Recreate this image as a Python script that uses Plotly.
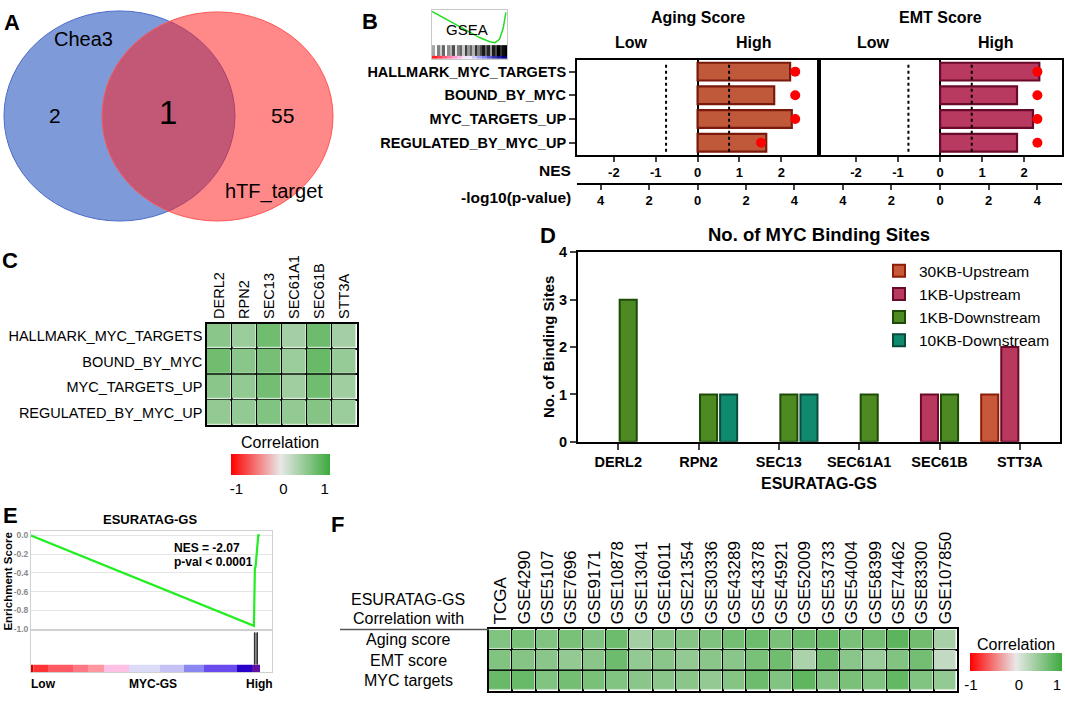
import numpy as np
import plotly.graph_objects as go

W, H = 1065, 701
FONT = "Arial, Liberation Sans, sans-serif"


def fx(p):
    return p / W


def fy(p):
    return 1 - p / H


# ---------------- Panel A : Venn ----------------
venn_left_name = "Chea3"
venn_right_name = "hTF_target"
venn_left_only = 2
venn_both = 1
venn_right_only = 55

# ---------------- Panel B : GSEA bars ----------------
gsea_sets = ["HALLMARK_MYC_TARGETS", "BOUND_BY_MYC", "MYC_TARGETS_UP", "REGULATED_BY_MYC_UP"]
aging_nes = [2.21, 1.83, 2.25, 1.64]
aging_logp = [4.03, 4.03, 4.03, 2.62]
emt_nes = [2.36, 1.83, 2.21, 1.83]
emt_logp = [4.0, 4.0, 4.0, 4.0]
p_threshold = 0.05
nes_ticks = [-2, -1, 0, 1, 2]
nes_ticktext = ["-2", "-1", "0", "1", "2"]
logp_ticks = [-4, -2, 0, 2, 4]
logp_ticktext = ["4", "2", "0", "2", "4"]

# GSEA icon (decoration in panel B)
icon_curve_x = [0.0, 0.24, 0.46, 0.64, 0.77, 0.84, 0.9, 0.95, 0.985]
icon_curve_y = [0.97, 0.77, 0.57, 0.43, 0.35, 0.33, 0.4, 0.63, 0.95]
icon_barcode = [0.35, 0.0, 0.5, 0.2, 0.6, 0.0, 0.45, 0.3, 0.7, 0.1, 0.5, 0.6, 0.2, 0.75, 0.4, 0.6,
                0.3, 0.8, 0.5, 0.7, 0.9, 0.6, 0.85, 0.4, 0.9, 0.7, 1.0, 0.8, 0.95, 1.0]
icon_strip = [-1.0, -0.85, -0.7, -0.55, -0.4, -0.25, -0.1, 0.05, 0.2, 0.35, 0.5, 0.65, 0.8, 0.9, 1.0]

# ---------------- Panel C : correlation heatmap ----------------
c_genes = ["DERL2", "RPN2", "SEC13", "SEC61A1", "SEC61B", "STT3A"]
c_corr = [
    [0.55, 0.45, 0.70, 0.40, 0.72, 0.40],
    [0.70, 0.55, 0.66, 0.45, 0.75, 0.48],
    [0.55, 0.50, 0.68, 0.42, 0.70, 0.42],
    [0.50, 0.50, 0.60, 0.50, 0.58, 0.45],
]

# ---------------- Panel D : binding sites ----------------
d_genes = ["DERL2", "RPN2", "SEC13", "SEC61A1", "SEC61B", "STT3A"]
d_series = ["30KB-Upstream", "1KB-Upstream", "1KB-Downstream", "10KB-Downstream"]
d_30kb_up = [0, 0, 0, 0, 0, 1]
d_1kb_up = [0, 0, 0, 0, 1, 2]
d_1kb_down = [3, 1, 1, 1, 1, 0]
d_10kb_down = [0, 1, 1, 0, 0, 0]

# ---------------- Panel E : GSEA enrichment plot ----------------
es_rank = [0, 18500, 18580, 18640, 18860, 19000]
es_score = [0.0, -0.965, -0.35, -0.33, 0.0, 0.0]
hit_ranks = [18550, 18575, 18760, 18785]
rank_edges = [0, 190, 1411, 3485, 4730, 6058, 8133, 10705, 12697, 14357, 17095, 18340, 19004]
rank_colors = ["#d40000", "#ff3434", "#ff5a64", "#ff7884", "#ff96a0", "#ffc0e6", "#dcdcf8",
               "#c6c2f6", "#8a88f0", "#6a4cee", "#2800c8", "#6012a2"]
e_nes_text = "NES = -2.07"
e_p_text = "p-val < 0.0001"

# ---------------- Panel F : dataset correlations ----------------
f_datasets = ["TCGA", "GSE4290", "GSE5107", "GSE7696", "GSE9171", "GSE10878", "GSE13041", "GSE16011",
              "GSE21354", "GSE30336", "GSE43289", "GSE43378", "GSE45921", "GSE52009", "GSE53733",
              "GSE54004", "GSE58399", "GSE74462", "GSE83300", "GSE107850"]
f_rows = ["Aging score", "EMT score", "MYC targets"]
f_aging = [0.60, 0.65, 0.60, 0.65, 0.60, 0.72, 0.40, 0.55, 0.58, 0.62, 0.68, 0.72, 0.65, 0.72, 0.75,
           0.65, 0.68, 0.82, 0.70, 0.38]
f_emt = [0.60, 0.58, 0.55, 0.50, 0.55, 0.72, 0.50, 0.55, 0.50, 0.55, 0.55, 0.65, 0.70, 0.35, 0.72,
         0.55, 0.45, 0.60, 0.68, 0.22]
f_myc = [0.75, 0.75, 0.60, 0.68, 0.65, 0.60, 0.55, 0.55, 0.55, 0.50, 0.58, 0.72, 0.60, 0.80, 0.60,
         0.65, 0.60, 0.78, 0.60, 0.50]

corr_scale = [[0.0, "#ff0000"], [0.5, "#e8e8e8"], [1.0, "#3daa3d"]]
corr_ticktext = ["-1", "0", "1"]

fig = go.Figure()
ann = []
shapes = []


def bold(size, color="black"):
    return dict(family=FONT, size=size, color=color, weight="bold")


def reg(size, color="black"):
    return dict(family=FONT, size=size, color=color)


def text(x, y, s, font, **kw):
    d = dict(x=fx(x), y=fy(y), xref="paper", yref="paper", text=s, showarrow=False, font=font,
             xanchor="center", yanchor="middle")
    d.update(kw)
    ann.append(d)


# ======== Panel A ========
shapes.append(dict(type="circle", xref="paper", yref="paper", x0=fx(4), x1=fx(235), y0=fy(218), y1=fy(3),
                   fillcolor="rgba(42,87,190,0.6)", line=dict(color="#4a6cc8", width=1)))
shapes.append(dict(type="circle", xref="paper", yref="paper", x0=fx(102), x1=fx(333), y0=fy(218), y1=fy(4),
                   fillcolor="rgba(255,30,30,0.53)", line=dict(color="#ff5555", width=1)))
text(83, 32, venn_left_name, reg(20))
text(55, 110, str(venn_left_only), reg(21))
text(168, 107, str(venn_both), reg(33))
text(282, 110, str(venn_right_only), reg(21))
text(274, 188, venn_right_name, reg(20))

# ======== Panel B ========
nes_lo, nes_hi = -2.88, 2.9
nes_per_logp = 0.5786
b_panels = [
    ("x", "y", "x3", aging_nes, aging_logp, "#c0583a", "#7a1a0c", 577, 819, "Aging Score"),
    ("x2", "y2", "x4", emt_nes, emt_logp, "#b93a60", "#6a0a2a", 819, 1062, "EMT Score"),
]
thr = -np.log10(p_threshold)
for i, (xa, ya, pa, nes, lp, fc, lc, left, right, title) in enumerate(b_panels):
    fig.add_trace(go.Bar(x=nes, y=gsea_sets, orientation="h", width=0.75, xaxis=xa, yaxis=ya,
                         marker=dict(color=fc, line=dict(color=lc, width=2.2)), showlegend=False))
    fig.add_trace(go.Scatter(x=lp, y=gsea_sets, mode="markers", xaxis=pa, yaxis=ya,
                             marker=dict(color="#ff0000", size=10), showlegend=False))
    for v in (-thr, thr):
        shapes.append(dict(type="line", xref=pa, yref=ya + " domain", x0=v, x1=v, y0=0.03, y1=0.96,
                           line=dict(color="black", width=2, dash="dot")))
    wdt = right - left
    text(left + 0.5 * wdt, 10, title, bold(16))
    text(left + 0.225 * wdt, 35, "Low", bold(16))
    text(left + 0.73 * wdt, 35, "High", bold(16))
text(573, 166, "NES", bold(15.5), xanchor="right")
text(573, 194, "-log10(p-value)", bold(15.5), xanchor="right")

# GSEA icon
fig.add_trace(go.Scatter(x=icon_curve_x, y=icon_curve_y, mode="lines", xaxis="x11", yaxis="y11",
                         line=dict(color="#22dd22", width=1.5), showlegend=False))
nb = len(icon_barcode)
fig.add_trace(go.Heatmap(z=[icon_barcode], x=np.linspace(0, 1, nb + 1), y=[0.06, 0.28], xaxis="x11",
                         yaxis="y11", colorscale=[[0, "#ffffff"], [1, "#000000"]], zmin=0, zmax=1,
                         showscale=False, hoverinfo="skip"))
ns = len(icon_strip)
fig.add_trace(go.Heatmap(z=[icon_strip], x=np.linspace(0, 1, ns + 1), y=[0.0, 0.06], xaxis="x11",
                         yaxis="y11", zmin=-1, zmax=1, showscale=False, hoverinfo="skip",
                         colorscale=[[0, "#ff2020"], [0.3, "#ff9ad0"], [0.5, "#f4f4ff"],
                                     [0.75, "#8080f0"], [1, "#000080"]]))
text(467, 22, "GSEA", reg(15))

# ======== Panel C ========
fig.add_trace(go.Heatmap(z=c_corr, x=c_genes, y=gsea_sets, xaxis="x6", yaxis="y6", zmin=-1, zmax=1,
                         colorscale=corr_scale, xgap=1.5, ygap=1.5, hoverinfo="skip",
                         colorbar=dict(orientation="h", x=fx(280), xanchor="center", y=fy(456),
                                       yanchor="top", len=99, lenmode="pixels", thickness=21,
                                       xpad=0, ypad=0, outlinewidth=0, ticks="",
                                       tickvals=[-0.88, 0.07, 0.9], ticktext=corr_ticktext,
                                       tickfont=reg(15))))
text(280, 445, "Correlation", reg(16))

# ======== Panel D ========
d_cols = [("#c8583a", "#8a1e08"), ("#b8385e", "#6a0a2a"), ("#4e8a22", "#1e4a08"), ("#0f8a6e", "#0a4a3a")]
for name, vals, (fc, lc) in zip(d_series, [d_30kb_up, d_1kb_up, d_1kb_down, d_10kb_down], d_cols):
    fig.add_trace(go.Bar(x=d_genes, y=[v if v else None for v in vals], name=name, xaxis="x5", yaxis="y5",
                         marker=dict(color=fc, line=dict(color=lc, width=2))))
text(819, 232, "No. of MYC Binding Sites", bold(18.5))
text(819, 487, "ESURATAG-GS", bold(16))
text(548, 347, "No. of Binding Sites", bold(15), textangle=-90)

# ======== Panel E ========
fig.add_trace(go.Scatter(x=es_rank, y=es_score, mode="lines", xaxis="x8", yaxis="y8",
                         line=dict(color="#22ee22", width=2.2), showlegend=False))
hx, hy = [], []
for r in hit_ranks:
    hx += [r, r, None]
    hy += [0.19, 0.95, None]
fig.add_trace(go.Scatter(x=hx, y=hy, mode="lines", xaxis="x9", yaxis="y9",
                         line=dict(color="#333333", width=1.3), showlegend=False))
widths = [b - a for a, b in zip(rank_edges[:-1], rank_edges[1:])]
fig.add_trace(go.Bar(x=widths, base=rank_edges[:-1], y=[0.093] * len(widths), orientation="h",
                     width=0.186, xaxis="x9", yaxis="y9", marker=dict(color=rank_colors, line=dict(width=0)),
                     showlegend=False, hoverinfo="skip"))
text(150, 523, "ESURATAG-GS", bold(13))
text(8, 587, "Enrichment Score", bold(11.5), textangle=-90)
text(172, 553, e_nes_text, bold(12), xanchor="left")
text(172, 567, e_p_text, bold(12), xanchor="left")
text(43, 692, "Low", bold(12))
text(153, 692, "MYC-GS", bold(12))
text(259, 692, "High", bold(12))

# ======== Panel F ========
fig.add_trace(go.Heatmap(z=[f_aging, f_emt, f_myc], x=f_datasets, y=f_rows, xaxis="x7", yaxis="y7",
                         zmin=-1, zmax=1, colorscale=corr_scale, xgap=1.5, ygap=1.5, hoverinfo="skip",
                         colorbar=dict(orientation="h", x=fx(1016), xanchor="center", y=fy(660),
                                       yanchor="top", len=92, lenmode="pixels", thickness=18,
                                       xpad=0, ypad=0, outlinewidth=0, ticks="",
                                       tickvals=[-0.98, 0.065, 0.89], ticktext=corr_ticktext,
                                       tickfont=reg(15))))
text(1016, 651, "Correlation", reg(16))
for r in f_rows:
    ann.append(dict(x=fx(408), y=r, xref="paper", yref="y7", text=r, showarrow=False, font=reg(16),
                    xanchor="center", yanchor="middle"))
text(408, 605, "ESURATAG-GS", reg(16))
text(408, 625, "Correlation with", reg(16))
shapes.append(dict(type="line", xref="paper", yref="y7 domain", x0=fx(340), x1=fx(489), y0=1, y1=1,
                   line=dict(color="#555555", width=1.5)))

# Panel letters
for lab, x, y in [("A", 12, 15), ("B", 370, 14), ("C", 10, 258), ("D", 548, 233), ("E", 10, 519), ("F", 337, 529)]:
    text(x, y, lab, bold(22))

axis_common = dict(showgrid=False, zeroline=False)
line_black = dict(showline=True, linecolor="black", linewidth=2, mirror=True)

layout = dict(
    width=W, height=H, margin=dict(l=0, r=0, t=0, b=0), paper_bgcolor="white", plot_bgcolor="white",
    font=reg(13), barmode="group", bargap=0.0, bargroupgap=0.15, annotations=ann, shapes=shapes,
    legend=dict(x=fx(879), y=fy(252), xanchor="left", yanchor="top", font=reg(15.5), bgcolor="rgba(0,0,0,0)",
                tracegroupgap=0, itemwidth=30),
    # Panel B aging
    xaxis=dict(domain=[fx(577), fx(819)], anchor="y", range=[nes_lo, nes_hi], tickvals=nes_ticks,
               ticktext=nes_ticktext, ticks="outside", ticklen=5, tickwidth=1.5, tickfont=bold(13),
               showgrid=False, zeroline=True, zerolinecolor="black", zerolinewidth=2, **line_black),
    yaxis=dict(domain=[fy(150), fy(53)], anchor="x", type="category", autorange="reversed", ticks="outside",
               ticklen=6, tickwidth=1.5, tickfont=bold(14.5), showgrid=False, zeroline=False, **line_black),
    xaxis3=dict(overlaying="x", anchor="free", position=fy(180), side="bottom",
                range=[nes_lo / nes_per_logp, nes_hi / nes_per_logp], tickvals=logp_ticks,
                ticktext=logp_ticktext, ticks="outside", ticklen=5, tickwidth=1.5, tickfont=bold(13),
                showline=True, linecolor="black", linewidth=2, **axis_common),
    # Panel B EMT
    xaxis2=dict(domain=[fx(819), fx(1062)], anchor="y2", range=[nes_lo, nes_hi], tickvals=nes_ticks,
                ticktext=nes_ticktext, ticks="outside", ticklen=5, tickwidth=1.5, tickfont=bold(13),
                showgrid=False, zeroline=True, zerolinecolor="black", zerolinewidth=2, **line_black),
    yaxis2=dict(domain=[fy(150), fy(53)], anchor="x2", type="category", autorange="reversed",
                showticklabels=False, ticks="", showgrid=False, zeroline=False, **line_black),
    xaxis4=dict(overlaying="x2", anchor="free", position=fy(180), side="bottom",
                range=[nes_lo / nes_per_logp, nes_hi / nes_per_logp], tickvals=logp_ticks,
                ticktext=logp_ticktext, ticks="outside", ticklen=5, tickwidth=1.5, tickfont=bold(13),
                showline=True, linecolor="black", linewidth=2, **axis_common),
    # Panel D
    xaxis5=dict(domain=[fx(578), fx(1060)], anchor="y5", type="category", categoryorder="array",
                categoryarray=d_genes, ticks="outside", ticklen=6, tickwidth=2, tickfont=bold(14.5),
                **axis_common, **line_black),
    yaxis5=dict(domain=[fy(444), fy(250)], anchor="x5", range=[0, 4], tickvals=[0, 1, 2, 3, 4],
                ticks="outside", ticklen=6, tickwidth=2, tickfont=bold(14.5), **axis_common, **line_black),
    # Panel C
    xaxis6=dict(domain=[fx(207), fx(357)], anchor="y6", side="top", tickangle=-90, tickfont=reg(14.5),
                ticks="", tickson="boundaries", showgrid=True, gridcolor="black", gridwidth=1.5,
                zeroline=False, showline=True, linecolor="black", linewidth=1.5, mirror=True),
    yaxis6=dict(domain=[fy(427), fy(323)], anchor="x6", autorange="reversed", tickfont=reg(14.5),
                ticks="", tickson="boundaries", showgrid=True, gridcolor="black", gridwidth=1.5,
                zeroline=False, showline=True, linecolor="black", linewidth=1.5, mirror=True),
    # Panel F
    xaxis7=dict(domain=[fx(489), fx(957)], anchor="y7", side="top", tickangle=-90, tickfont=reg(17),
                ticks="", tickson="boundaries", showgrid=True, gridcolor="black", gridwidth=1.5,
                zeroline=False, showline=True, linecolor="black", linewidth=1.5, mirror=True),
    yaxis7=dict(domain=[fy(699), fy(636)], anchor="x7", autorange="reversed", showticklabels=False,
                ticks="", tickson="boundaries", showgrid=True, gridcolor="black", gridwidth=1.5,
                zeroline=False, showline=True, linecolor="black", linewidth=1.5, mirror=True),
    # Panel E enrichment
    xaxis8=dict(domain=[fx(31), fx(272)], anchor="y8", range=[0, 20000], showticklabels=False, ticks="",
                showline=True, linecolor="#d0d0d0", linewidth=1, mirror=True, **axis_common),
    yaxis8=dict(domain=[fy(637), fy(535)], anchor="x8", range=[-1.014, 0.05],
                tickvals=[0, -0.2, -0.4, -0.6, -0.8, -1.0],
                ticktext=["0.0", "-0.2", "-0.4", "-0.6", "-0.8", "-1.0"], tickfont=bold(8.5, "#8a8a8a"),
                ticks="", showgrid=True, gridcolor="#e4e4e4", zeroline=False, showline=True,
                linecolor="#d0d0d0", linewidth=1, mirror=True),
    xaxis9=dict(domain=[fx(31), fx(272)], anchor="y9", range=[0, 20000], showticklabels=False, ticks="",
                showline=True, linecolor="#d0d0d0", linewidth=1, mirror=True, **axis_common),
    yaxis9=dict(domain=[fy(680), fy(637)], anchor="x9", range=[0, 1], showticklabels=False, ticks="",
                showline=True, linecolor="#d0d0d0", linewidth=1, mirror=True, **axis_common),
    # GSEA icon
    xaxis11=dict(domain=[fx(432), fx(507)], anchor="y11", range=[0, 1], showticklabels=False, ticks="",
                 showline=True, linecolor="#c8c8c8", linewidth=1, mirror=True, **axis_common),
    yaxis11=dict(domain=[fy(52), fy(2)], anchor="x11", range=[0, 1], showticklabels=False, ticks="",
                 showline=True, linecolor="#c8c8c8", linewidth=1, mirror=True, **axis_common),
)
fig.update_layout(**layout)
fig.write_html("out.html", config={"displayModeBar": False},
               post_script="document.body.style.margin='0px';document.body.style.overflow='hidden';")
